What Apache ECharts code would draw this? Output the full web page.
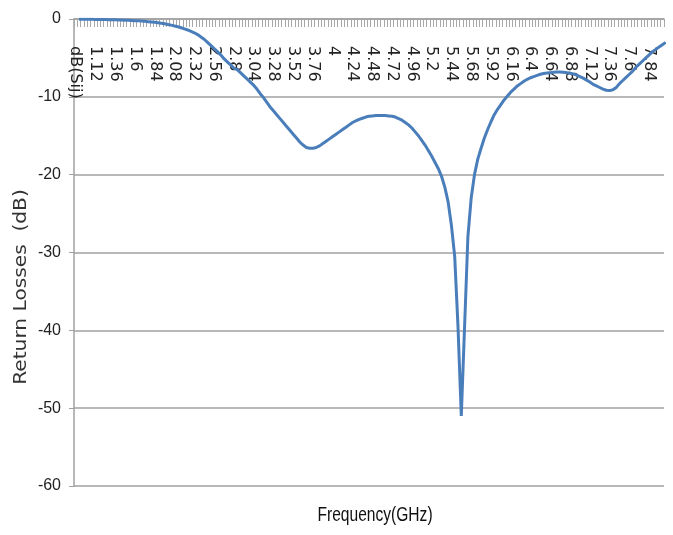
<!DOCTYPE html>
<html>
<head>
<meta charset="utf-8">
<script src="https://cdn.jsdelivr.net/npm/echarts@6/dist/echarts.min.js"></script>
<style>html,body{margin:0;padding:0;background:#fff}#c{width:673px;height:535px}</style>
</head>
<body>
<div id="c"></div>
<script>
// Frequency categories (GHz): header cell then 0.92 .. 8.00 step 0.04
var headerLabel = 'dB(Sij)';
var freqStart = 0.92, freqStep = 0.04, freqCount = 178;
var categories = [headerLabel];
for (var k = 0; k < freqCount; k++) categories.push(String(+(freqStart + freqStep * k).toFixed(2)));

// Return loss values (dB), one per frequency 0.92 .. 8.00
var returnLoss = [
  -0.02,-0.02,-0.03,-0.03,-0.04,-0.05,-0.06,-0.07,-0.08,-0.09,   // 0.92-1.28
  -0.10,-0.11,-0.12,-0.13,-0.15,-0.17,-0.19,-0.21,-0.24,-0.27,   // 1.32-1.68
  -0.30,-0.34,-0.38,-0.43,-0.49,-0.55,-0.62,-0.70,-0.79,-0.89,   // 1.72-2.08
  -1.00,-1.12,-1.26,-1.41,-1.58,-1.77,-2.00,-2.30,-2.60,-3.00,   // 2.12-2.48
  -3.40,-3.80,-4.20,-4.60,-5.10,-5.50,-5.90,-6.30,-6.50,-6.90,   // 2.52-2.88
  -7.30,-7.70,-8.10,-8.50,-9.00,-9.60,-10.1,-10.7,-11.3,-11.8,   // 2.92-3.28
  -12.3,-12.8,-13.3,-13.8,-14.3,-14.8,-15.3,-15.8,-16.2,-16.5,   // 3.32-3.68
  -16.6,-16.6,-16.5,-16.3,-16.0,-15.7,-15.4,-15.1,-14.8,-14.5,   // 3.72-4.08
  -14.2,-13.9,-13.6,-13.3,-13.1,-12.9,-12.75,-12.6,-12.5,-12.45, // 4.12-4.48
  -12.4,-12.4,-12.4,-12.4,-12.45,-12.5,-12.6,-12.8,-13.0,-13.3,  // 4.52-4.88
  -13.6,-14.0,-14.5,-15.0,-15.6,-16.2,-16.9,-17.6,-18.4,-19.2,   // 4.92-5.28
  -20.2,-21.6,-23.5,-26.5,-30.5,-39.5,-51.0,-39.5,-28.0,-23.0,   // 5.32-5.68
  -20.0,-18.0,-16.6,-15.3,-14.2,-13.2,-12.3,-11.6,-11.0,-10.4,   // 5.72-6.08
  -9.9,-9.4,-9.0,-8.6,-8.3,-8.0,-7.75,-7.55,-7.4,-7.25,          // 6.12-6.48
  -7.1,-7.0,-6.95,-6.9,-6.85,-6.8,-6.8,-6.85,-6.9,-6.95,         // 6.52-6.88
  -7.05,-7.2,-7.4,-7.6,-7.85,-8.1,-8.4,-8.6,-8.8,-9.0,           // 6.92-7.28
  -9.15,-9.2,-9.1,-8.8,-8.3,-7.9,-7.5,-7.1,-6.7,-6.2,            // 7.32-7.68
  -5.8,-5.4,-5.0,-4.6,-4.2,-3.9,-3.6,-3.3,-3.0                   // 7.72-8.00
];
var seriesData = [null].concat(returnLoss);

var yTicks = { min: -60, max: 0, interval: 10 };
var xTitle = 'Frequency(GHz)';
var yTitle = 'Return Losses  (dB)';

var chart = echarts.init(document.getElementById('c'), null, { renderer: 'canvas' });
chart.setOption({
  animation: false,
  backgroundColor: '#ffffff',
  grid: { left: 74, right: 9, top: 19, bottom: 49, containLabel: false },
  xAxis: {
    type: 'category',
    position: 'top',
    data: categories,
    boundaryGap: true,
    axisLine: { onZero: false, lineStyle: { color: '#a0a0a0', width: 1.5 } },
    axisTick: { show: true, inside: true, interval: 0, length: 8, lineStyle: { color: '#a8a8a8', width: 1 } },
    axisLabel: {
      inside: true, interval: 5, rotate: 90, margin: 27,
      color: '#222', fontSize: 16, fontFamily: 'DejaVu Sans'
    },
    splitLine: { show: false }
  },
  yAxis: {
    type: 'value',
    min: yTicks.min, max: yTicks.max, interval: yTicks.interval,
    axisLine: { show: true, lineStyle: { color: '#a0a0a0', width: 1.5 } },
    axisTick: { show: true, length: 5, lineStyle: { color: '#a0a0a0' } },
    axisLabel: { margin: 13, color: '#222', fontSize: 16, fontFamily: '"Liberation Sans", sans-serif' },
    splitLine: { show: true, lineStyle: { color: '#a0a0a0', width: 1.5 } }
  },
  series: [{
    type: 'line',
    data: seriesData,
    showSymbol: false,
    symbol: 'none',
    connectNulls: false,
    lineStyle: { color: '#4a7ebb', width: 3 },
    itemStyle: { color: '#4a7ebb' }
  }],
  graphic: [
    {
      type: 'text', x: 375, y: 516, scaleX: 0.82, scaleY: 1.05,
      style: { text: xTitle, fill: '#111', font: '19px "Liberation Sans", sans-serif', textAlign: 'center', textVerticalAlign: 'middle' }
    },
    {
      type: 'text', x: 22, y: 287, rotation: Math.PI / 2, scaleX: 1.12, scaleY: 0.95,
      style: { text: yTitle, fill: '#333', font: '18px "DejaVu Sans", sans-serif', textAlign: 'center', textVerticalAlign: 'middle' }
    }
  ]
});
</script>
</body>
</html>
